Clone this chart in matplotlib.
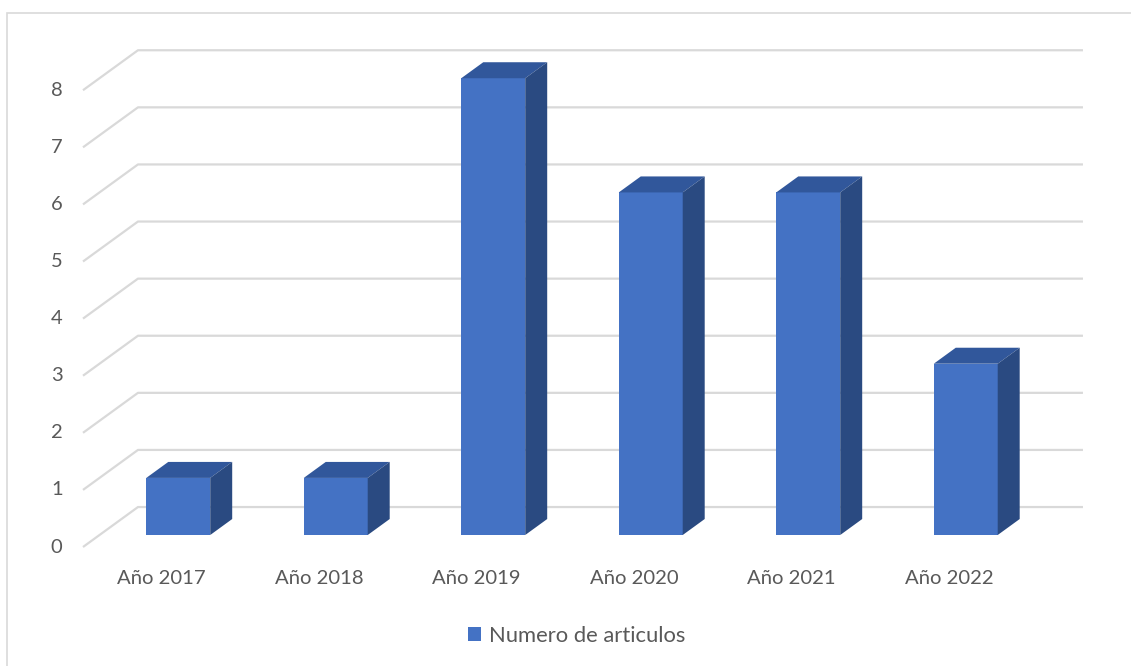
import matplotlib.pyplot as plt
from matplotlib.patches import Polygon, Rectangle
import numpy as np

years = ['Año 2017', 'Año 2018', 'Año 2019', 'Año 2020', 'Año 2021', 'Año 2022']
articulos = [1, 1, 8, 6, 6, 3]
y_ticks = [0, 1, 2, 3, 4, 5, 6, 7, 8]

FRONT = '#4472C4'
TOP = '#31579B'
SIDE = '#2A4A81'
GRID = '#D9D9D9'
TEXT = '#595959'

# oblique offset of the full floor depth (x in category slots, y in values)
DX = 0.349
DY = 0.70
D0, D1 = 0.30, 0.70   # bar front / back depth fraction
W = 0.406

plt.rcParams['font.family'] = ['Lato', 'DejaVu Sans']

fig = plt.figure(figsize=(11.31, 6.66), dpi=100)
ax = fig.add_axes([0, 0, 1, 1])
ax.set_xlim(-1.027, 6.154)
ax.set_ylim(-2.084, 9.580)
ax.axis('off')

# chart frame
fig.patches.append(Rectangle((7 / 1131, -0.05), 1.1, 1 - 13 / 666 + 0.05,
                             transform=fig.transFigure, fill=False,
                             edgecolor=GRID, linewidth=1.2))

n = len(years)
x = np.arange(n)

# wall gridlines with the oblique side-wall segment
for v in y_ticks:
    ax.plot([-0.5, -0.5 + DX, n - 0.5 + DX], [v, v + DY, v + DY],
            color=GRID, linewidth=1.6, solid_capstyle='butt', zorder=1)
    ax.text(-0.63, v, str(v), ha='right', va='center', fontsize=14.5, color=TEXT)

# front faces
x0 = x + D0 * DX
ax.bar(x0, articulos, width=W, bottom=D0 * DY, color=FRONT,
       label='Numero de articulos', zorder=3)

dx = (D1 - D0) * DX
dy = (D1 - D0) * DY
for xi, v in zip(x0, articulos):
    l, r = xi - W / 2, xi + W / 2
    b, t = D0 * DY, D0 * DY + v
    ax.add_patch(Polygon([(l, t), (r, t), (r + dx, t + dy), (l + dx, t + dy)],
                         closed=True, facecolor=TOP, edgecolor='none', zorder=3))
    ax.add_patch(Polygon([(r, b), (r + dx, b + dy), (r + dx, t + dy), (r, t)],
                         closed=True, facecolor=SIDE, edgecolor='none', zorder=3))

for xi, lab in zip(x, years):
    ax.text(xi, -0.56, lab, ha='center', va='center', fontsize=14.6, color=TEXT)

ax.legend(loc='center', bbox_to_anchor=(0.510, 1 - 636 / 666), frameon=False,
          fontsize=15.8, labelcolor=TEXT, handlelength=0.6, handleheight=0.6,
          handletextpad=0.35)

fig.savefig('out.png', dpi=100)
